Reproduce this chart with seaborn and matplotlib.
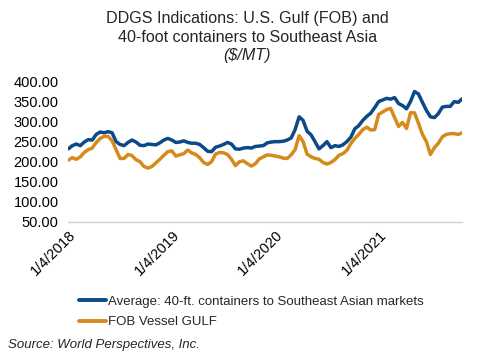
import pandas as pd
import matplotlib.pyplot as plt
import matplotlib.dates as mdates
import matplotlib.ticker as mticker
import seaborn as sns

# weekly prices, read every 2 weeks starting 1/4/2018
start_date = '2018-01-04'
weeks = list(range(0, 200, 2))

container_avg = [
    232, 240, 244, 240, 249, 255, 254, 268, 274, 272,
    275, 272, 250, 243, 240, 248, 254, 249, 241, 240,
    244, 243, 242, 247, 254, 258, 254, 248, 249, 252,
    248, 246, 246, 243, 235, 226, 225, 236, 239, 243,
    248, 244, 232, 231, 234, 235, 234, 238, 239, 240,
    247, 249, 250, 250, 251, 254, 259, 280, 312, 303,
    276, 267, 250, 232, 240, 250, 235, 240, 238, 242,
    250, 261, 282, 290, 303, 313, 321, 335, 350, 354,
    358, 356, 360, 345, 340, 332, 350, 375, 369, 348,
    328, 312, 310, 320, 336, 338, 338, 350, 348, 357,
]
fob_gulf = [
    204, 210, 206, 212, 223, 230, 234, 248, 258, 263,
    263, 252, 230, 208, 208, 218, 215, 205, 200, 188,
    184, 188, 197, 206, 216, 225, 227, 214, 217, 220,
    229, 222, 218, 210, 198, 193, 200, 219, 223, 222,
    218, 206, 190, 200, 202, 195, 189, 195, 207, 212,
    217, 216, 214, 212, 209, 208, 217, 230, 265, 250,
    219, 212, 208, 206, 198, 194, 198, 205, 216, 220,
    228, 245, 258, 268, 280, 286, 279, 280, 318, 324,
    330, 333, 310, 288, 298, 283, 322, 322, 296, 268,
    250, 218, 235, 246, 262, 268, 270, 270, 268, 272,
]

series_names = ['Average: 40-ft. containers to Southeast Asian markets',
                'FOB Vessel GULF']
tick_dates = ['2018-01-04', '2019-01-04', '2020-01-04', '2021-01-04']
colors = ['#0B4A86', '#D68A1C']

dates = pd.to_datetime(start_date) + pd.to_timedelta([w * 7 for w in weeks], unit='D')
df = pd.concat([
    pd.DataFrame({'date': dates, 'price': container_avg, 'series': series_names[0]}),
    pd.DataFrame({'date': dates, 'price': fob_gulf, 'series': series_names[1]}),
])

sns.set_style('white')
plt.rcParams['font.family'] = ['Liberation Sans', 'DejaVu Sans']

fig = plt.figure(figsize=(4.78, 3.56), dpi=100)
ax = fig.add_axes([0.143, 0.377, 0.824, 0.394])

sns.lineplot(data=df, x='date', y='price', hue='series',
             palette=colors, linewidth=2.5, ax=ax, legend=False)

ax.set_xlim(dates[0], dates[-1])
ax.set_ylim(50, 400)
ax.set_yticks(range(50, 401, 50))
ax.yaxis.set_major_formatter(mticker.FormatStrFormatter('%.2f'))
ax.set_xticks(pd.to_datetime(tick_dates))
ax.xaxis.set_major_formatter(mdates.DateFormatter('%-m/%-d/%Y'))
for lbl in ax.get_xticklabels():
    lbl.set_rotation(45)
    lbl.set_ha('right')
    lbl.set_rotation_mode('anchor')
ax.tick_params(axis='both', length=0, labelsize=10.5, colors='black')
ax.tick_params(axis='y', pad=7)
ax.tick_params(axis='x', pad=4)
ax.set_xlabel('')
ax.set_ylabel('')
for side in ['top', 'right', 'left']:
    ax.spines[side].set_visible(False)
ax.spines['bottom'].set_color('#d0d0d0')
ax.spines['bottom'].set_linewidth(1)

fig.text(0.517, 0.947, 'DDGS Indications: U.S. Gulf (FOB) and', ha='center', va='center', fontsize=11.6)
fig.text(0.517, 0.895, '40-foot containers to Southeast Asia', ha='center', va='center', fontsize=11.6)
fig.text(0.517, 0.843, '($/MT)', ha='center', va='center', fontsize=11.6, style='italic')

handles = [plt.Line2D([], [], color=c, linewidth=2.8) for c in colors]
fig.legend(handles, series_names, loc='upper left', bbox_to_anchor=(0.155, 0.185),
           frameon=False, fontsize=9.5, handlelength=2.0, handletextpad=0.15,
           labelspacing=0.65, borderaxespad=0)
fig.text(0.017, 0.031, 'Source: World Perspectives, Inc.', ha='left', va='center',
         fontsize=9.5, style='italic')

fig.savefig('out.png', dpi=100)
